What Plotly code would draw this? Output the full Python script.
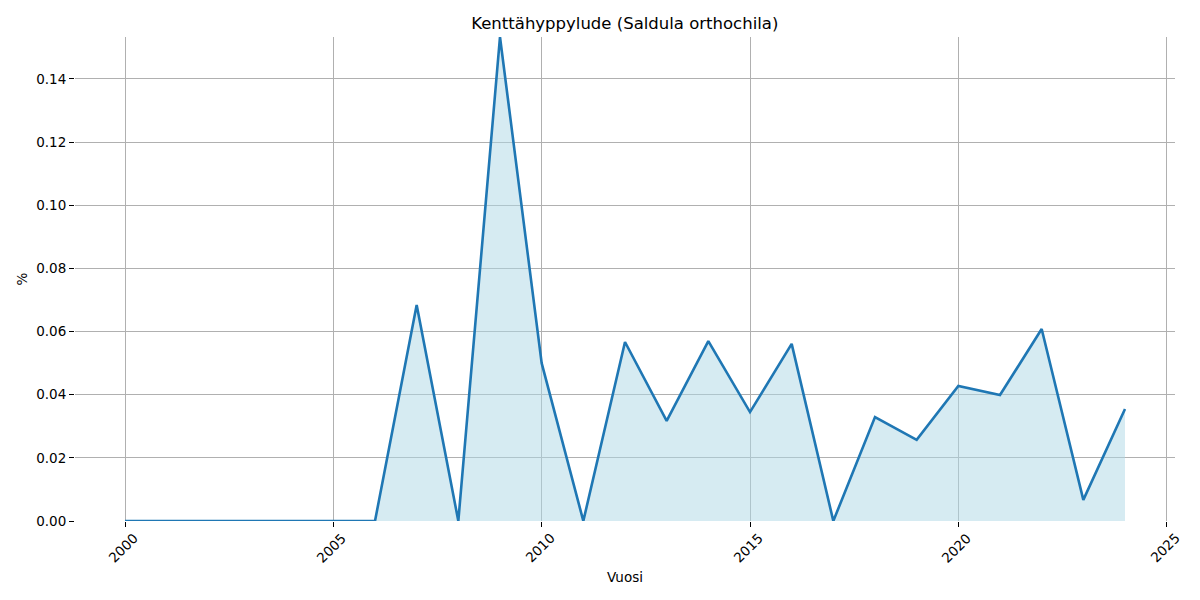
import plotly.graph_objects as go

years = list(range(2000, 2025))
values = [0, 0, 0, 0, 0, 0, 0, 0.0684, 0, 0.1533, 0.0500, 0, 0.0567, 0.0317,
          0.0570, 0.0345, 0.0561, 0, 0.0329, 0.0257, 0.0428, 0.0399, 0.0608,
          0.0067, 0.0355]
x_ticks = [2000, 2005, 2010, 2015, 2020, 2025]
y_ticks = [0.00, 0.02, 0.04, 0.06, 0.08, 0.10, 0.12, 0.14]
title = "Kenttähyppylude (Saldula orthochila)"
x_label = "Vuosi"
y_label = "%"

FONT = "DejaVu Sans"

fig = go.Figure()
fig.add_trace(go.Scatter(
    x=years, y=values, mode="lines",
    line=dict(color="#1f77b4", width=2.6),
    fill="tozeroy", fillcolor="rgba(173,216,230,0.5)",
    showlegend=False, hoverinfo="skip",
))

for t in x_ticks:
    fig.add_annotation(
        x=t, y=0, xref="x", yref="y", text=str(t), showarrow=False,
        textangle=-45, yshift=-27, xshift=-2,
        font=dict(family=FONT, size=13.5, color="black"),
    )

ymax = max(values)
fig.update_layout(
    width=1200, height=600,
    paper_bgcolor="white", plot_bgcolor="white",
    margin=dict(l=67, r=33, t=29, b=87),
    font=dict(family=FONT, size=13.5, color="black"),
    title=dict(text=title, x=0.514, xanchor="center", y=0.975, yanchor="middle",
               font=dict(family=FONT, size=16.5, color="black")),
    xaxis=dict(
        range=[1998.8, 2025.2], tickvals=x_ticks, showticklabels=False,
        showgrid=True, gridcolor="#b0b0b0", gridwidth=1,
        zeroline=False, showline=False,
        ticks="outside", ticklen=5, tickcolor="black", tickwidth=1,
        title=dict(text=x_label, font=dict(family=FONT, size=13.5), standoff=46),
    ),
    yaxis=dict(
        range=[0, ymax], tickvals=y_ticks, tickformat=".2f",
        showgrid=True, gridcolor="#b0b0b0", gridwidth=1,
        zeroline=False, showline=False,
        ticks="outside", ticklen=5, tickcolor="black", tickwidth=1,
        title=dict(text=y_label, font=dict(family=FONT, size=13.5), standoff=5),
    ),
)

fig.write_html("out.html")
